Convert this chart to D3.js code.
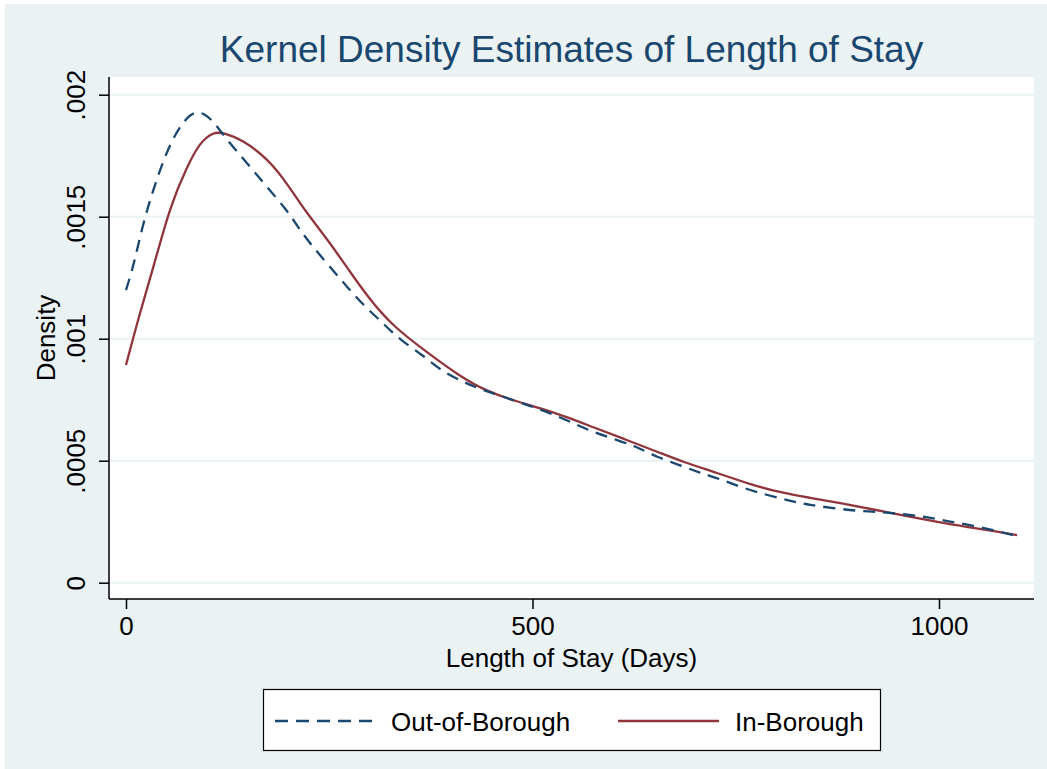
<!DOCTYPE html>
<html>
<head>
<meta charset="utf-8">
<script src="https://cdn.jsdelivr.net/npm/d3@7"></script>
<style>
  html, body { margin: 0; padding: 0; background: #ffffff; }
  svg { display: block; font-family: "Liberation Sans", Arial, Helvetica, sans-serif; }
</style>
</head>
<body>
<svg id="chart" width="1047" height="769"></svg>
<script>
// ---- Data ----
const titleText = "Kernel Density Estimates of Length of Stay";
const xTitle = "Length of Stay (Days)";
const yTitle = "Density";
const xTicks = [0, 500, 1000];
const xTickLabels = ["0", "500", "1000"];
const yTicks = [0, 0.0005, 0.001, 0.0015, 0.002];
const yTickLabels = ["0", ".0005", ".001", ".0015", ".002"];
const seriesNames = ["Out-of-Borough", "In-Borough"];

const outDays = [0, 9, 21, 36, 54, 73, 89, 107, 124, 149, 173, 198, 214, 230, 251, 272, 292, 316, 337, 365, 386, 415, 439, 469, 497, 522, 550, 574, 604, 629, 653, 681, 706, 731, 759, 788, 817, 841, 870, 899, 927, 956, 985, 1010, 1038, 1066, 1096];
const outDensity = [0.001199, 0.001295, 0.001474, 0.001638, 0.001802, 0.001905, 0.001940, 0.001896, 0.001814, 0.001720, 0.001623, 0.001527, 0.001445, 0.001376, 0.001294, 0.001212, 0.001138, 0.001064, 0.000995, 0.000933, 0.000872, 0.000822, 0.000789, 0.000757, 0.000724, 0.000695, 0.000654, 0.000618, 0.000585, 0.000556, 0.000515, 0.000482, 0.000450, 0.000425, 0.000388, 0.000360, 0.000335, 0.000318, 0.000306, 0.000294, 0.000290, 0.000281, 0.000269, 0.000253, 0.000236, 0.000216, 0.000191];

const inDays = [0, 17, 34, 54, 75, 91, 107, 119, 144, 173, 193, 214, 226, 251, 276, 300, 328, 370, 411, 444, 481, 509, 542, 574, 616, 657, 685, 727, 768, 804, 841, 878, 919, 961, 1001, 1034, 1066, 1096];
const inDensity = [0.000892, 0.001105, 0.001295, 0.001541, 0.001705, 0.001805, 0.001846, 0.001846, 0.001814, 0.001740, 0.001660, 0.001556, 0.001500, 0.001392, 0.001272, 0.001160, 0.001052, 0.000945, 0.000845, 0.000784, 0.000742, 0.000716, 0.000679, 0.000638, 0.000585, 0.000532, 0.000495, 0.000450, 0.000403, 0.000370, 0.000348, 0.000327, 0.000300, 0.000273, 0.000247, 0.000229, 0.000212, 0.000195];

// ---- Layout ----
const W = 1047, H = 769;
const plot = { left: 109, right: 1034, top: 77, bottom: 599 };
const bg = "#EAF2F3";
const navy = "#1A476F";
const maroon = "#90353B";
const fs = 26;

const svg = d3.select("#chart");

svg.append("rect").attr("x", 5).attr("y", 4).attr("width", W - 5).attr("height", H - 4).attr("fill", bg);
svg.append("rect").attr("x", plot.left).attr("y", plot.top)
  .attr("width", plot.right - plot.left).attr("height", plot.bottom - plot.top).attr("fill", "#ffffff");

const x = d3.scaleLinear().domain([0, 1000]).range([126, 939]);
const y = d3.scaleLinear().domain([0, 0.002]).range([582.7, 94.7]);

// gridlines
svg.append("g").selectAll("line").data(yTicks).join("line")
  .attr("x1", plot.left + 1).attr("x2", plot.right)
  .attr("y1", d => y(d)).attr("y2", d => y(d))
  .attr("stroke", bg).attr("stroke-width", 2);

// y axis
const yAxis = d3.axisLeft(y).tickValues(yTicks).tickSize(10).tickPadding(0)
  .tickFormat((d, i) => yTickLabels[i]);
const gy = svg.append("g").attr("transform", `translate(${plot.left},0)`).call(yAxis);
gy.select(".domain").attr("d", `M0,${plot.top}V${plot.bottom}`).attr("stroke", "#000").attr("stroke-width", 1.5);
gy.selectAll(".tick line").attr("stroke", "#000").attr("stroke-width", 1.5);
gy.selectAll(".tick text")
  .attr("font-size", fs).attr("font-family", "Liberation Sans, Arial, sans-serif").attr("fill", "#000")
  .attr("text-anchor", "middle").attr("dy", 0).attr("x", 0).attr("y", 0)
  .attr("transform", "translate(-24,0) rotate(-90)");

// x axis
const xAxis = d3.axisBottom(x).tickValues(xTicks).tickSize(10).tickPadding(0)
  .tickFormat((d, i) => xTickLabels[i]);
const gx = svg.append("g").attr("transform", `translate(0,${plot.bottom})`).call(xAxis);
gx.select(".domain").attr("d", `M${plot.left},0H${plot.right}`).attr("stroke", "#000").attr("stroke-width", 1.5);
gx.selectAll(".tick line").attr("stroke", "#000").attr("stroke-width", 1.5);
gx.selectAll(".tick text")
  .attr("font-size", fs).attr("font-family", "Liberation Sans, Arial, sans-serif").attr("fill", "#000")
  .attr("dy", 0).attr("y", 36);

// lines
const line = d3.line().x(d => x(d[0])).y(d => y(d[1])).curve(d3.curveBasis);
const outData = outDays.map((d, i) => [d, outDensity[i]]);
const inData = inDays.map((d, i) => [d, inDensity[i]]);

svg.append("path").datum(inData).attr("d", line)
  .attr("fill", "none").attr("stroke", maroon).attr("stroke-width", 2.3);
svg.append("path").datum(outData).attr("d", line)
  .attr("fill", "none").attr("stroke", navy).attr("stroke-width", 2.3)
  .attr("stroke-dasharray", "12,8");

// title
svg.append("text").attr("x", (plot.left + plot.right) / 2).attr("y", 62)
  .attr("text-anchor", "middle").attr("font-size", 37).attr("fill", navy).text(titleText);

// axis titles
svg.append("text").attr("x", (plot.left + plot.right) / 2).attr("y", 667)
  .attr("text-anchor", "middle").attr("font-size", fs).attr("fill", "#000").text(xTitle);
svg.append("text").attr("transform", `translate(55,${(plot.top + plot.bottom) / 2}) rotate(-90)`)
  .attr("text-anchor", "middle").attr("font-size", fs).attr("fill", "#000").text(yTitle);

// legend
const lg = svg.append("g");
lg.append("rect").attr("x", 263.5).attr("y", 689.5).attr("width", 617).attr("height", 61)
  .attr("fill", "#fff").attr("stroke", "#000").attr("stroke-width", 1.2);
const legendItems = [
  { name: seriesNames[0], color: navy, dash: "13,8", x1: 275, x2: 374, tx: 391 },
  { name: seriesNames[1], color: maroon, dash: null, x1: 618, x2: 719, tx: 735 }
];
legendItems.forEach(it => {
  lg.append("line").attr("x1", it.x1).attr("x2", it.x2).attr("y1", 721).attr("y2", 721)
    .attr("stroke", it.color).attr("stroke-width", 2.3).attr("stroke-dasharray", it.dash);
  lg.append("text").attr("x", it.tx).attr("y", 731).attr("font-size", fs).attr("fill", "#000").text(it.name);
});
</script>
</body>
</html>
